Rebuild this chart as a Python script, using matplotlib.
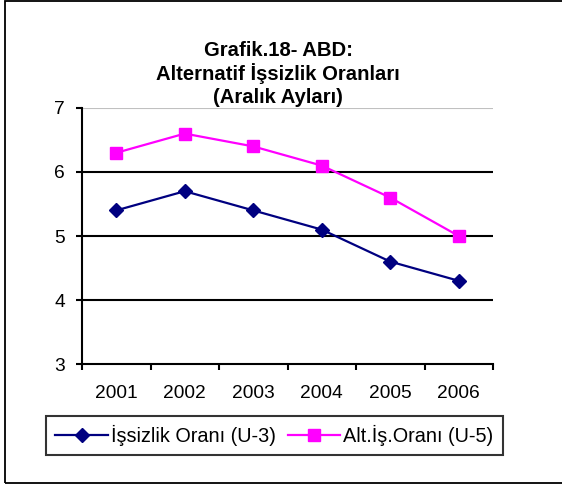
import matplotlib
matplotlib.use("Agg")
import matplotlib.pyplot as plt
from matplotlib.patches import Rectangle
from matplotlib.ticker import FixedLocator, NullFormatter, FixedFormatter

years = ["2001", "2002", "2003", "2004", "2005", "2006"]
u3 = [5.4, 5.7, 5.4, 5.1, 4.6, 4.3]
u5 = [6.3, 6.6, 6.4, 6.1, 5.6, 5.0]
title_lines = ["Grafik.18- ABD:", "Alternatif İşsizlik Oranları", "(Aralık Ayları)"]
labels = ["İşsizlik Oranı (U-3)", "Alt.İş.Oranı (U-5)"]

plt.rcParams['font.family'] = ['Liberation Sans', 'DejaVu Sans']

W, H = 562, 486
fig = plt.figure(figsize=(W / 100, H / 100), dpi=100)

# outer border
fig.patches.append(Rectangle((5 / W, 1 - 483 / H), 1.2, (483 - 1) / H,
                             transform=fig.transFigure, fill=False,
                             edgecolor='black', linewidth=1.3, clip_on=False))

ax = fig.add_axes([82 / W, 1 - 364 / H, (493 - 82) / W, (364 - 108) / H])
x = list(range(len(years)))
l1, = ax.plot(x, u3, color='#000080', lw=1.6, marker='D', ms=7.0,
              markerfacecolor='#000080', markeredgecolor='#000080', zorder=3)
l2, = ax.plot(x, u5, color='#FF00FF', lw=1.6, marker='s', ms=9.0,
              markerfacecolor='#FF00FF', markeredgecolor='#FF00FF', zorder=3)

ax.set_xlim(-0.5, len(years) - 0.5)
ax.set_ylim(3, 7)
ax.set_yticks([3, 4, 5, 6, 7])
for yv in [4, 5, 6]:
    ax.axhline(yv, color='black', lw=1.5, zorder=1)
ax.axhline(7, color='#c0c0c0', lw=0.8, zorder=1)

for s in ['top', 'right']:
    ax.spines[s].set_visible(False)
for s in ['left', 'bottom']:
    ax.spines[s].set_linewidth(1.5)
    ax.spines[s].set_color('black')

ax.xaxis.set_major_locator(FixedLocator([i - 0.5 for i in range(len(years) + 1)]))
ax.xaxis.set_major_formatter(NullFormatter())
ax.xaxis.set_minor_locator(FixedLocator(x))
ax.xaxis.set_minor_formatter(FixedFormatter(years))
ax.tick_params(axis='x', which='major', direction='out', length=4.5, width=1.5)
ax.tick_params(axis='x', which='minor', length=0, pad=15, labelsize=13.8)
ax.tick_params(axis='y', direction='out', length=4, width=1.5, pad=8.5, labelsize=13.8)

cx = 278 / W
for txt, yy in zip(title_lines, [50, 73.5, 97]):
    fig.text(cx, 1 - yy / H, txt, ha='center', va='center', fontsize=14.6,
             fontweight='bold')

leg = fig.legend([l1, l2], labels, loc='center', ncol=2,
                 bbox_to_anchor=(274.5 / W, 1 - 435.5 / H),
                 fontsize=14.3, frameon=True, fancybox=False, edgecolor='black',
                 handlelength=2.65, handletextpad=0.15, columnspacing=0.6,
                 borderpad=0.45, borderaxespad=0)
leg.get_frame().set_linewidth(1.5)

fig.savefig("out.png", dpi=100)
